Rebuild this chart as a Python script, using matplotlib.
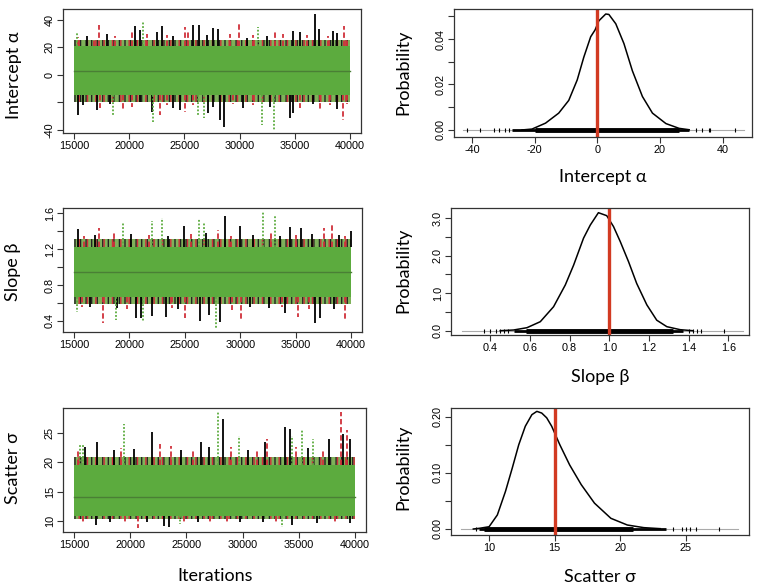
import matplotlib
matplotlib.use("Agg")
import matplotlib.pyplot as plt

W, H = 759, 588

GREEN = "#5cab3e"
GREEN_DARK = "#4a7f35"
FUZZ = "#7fb25a"
RED = "#d0303a"
TRUE_RED = "#d23a22"

plt.rcParams["hatch.linewidth"] = 1.0

# ---------------- trace panels ----------------
trace_iters = [15000, 40000]

alpha_mean = 3.2
alpha_core = (-14.5, 21.0)
alpha_fuzz = (-19.5, 25.5)
alpha_top_black = [(36830, 44.4), (20525, 35.6), (22940, 35.6), (25750, 36.4), (26350, 36.4),
                   (27620, 34.0), (28070, 33.2), (37220, 33.2), (34870, 32.2), (38790, 30.3),
                   (16147, 28), (17959, 30), (20978, 33), (22487, 31), (23997, 28), (27016, 29),
                   (30638, 27), (32450, 28), (35469, 31), (38488, 32)]
alpha_top_red = [(17300, 36.4), (29960, 37.1), (39450, 35.6), (20220, 31.5), (25050, 34.7),
                 (15390, 27.9), (33200, 32.7), (16811, 27), (18713, 28), (21581, 30), (23393, 29),
                 (25355, 33), (29129, 30), (31242, 29), (33959, 30), (36073, 29), (38035, 28),
                 (39696, 27)]
alpha_top_green = [(21280, 38.8), (31700, 35.2), (15240, 31.5)]
alpha_bot_black = [(28590, -37.6), (28220, -32.7), (15390, -29.1), (27170, -27.9), (34570, -31.5),
                   (34870, -27.9), (17050, -25.5), (22040, -26.7), (24600, -25.5), (15845, -22),
                   (18260, -21), (20978, -20), (23997, -24), (27619, -23), (30336, -24),
                   (32751, -23), (36676, -21), (38790, -25)]
alpha_bot_red = [(39400, -32.7), (22790, -29.1), (25050, -26.7), (19470, -25.5), (37280, -25.5),
                 (17355, -24), (20223, -23), (23393, -22), (25808, -22), (29430, -21),
                 (31242, -22), (35469, -24), (38186, -22), (39696, -21)]
alpha_bot_green = [(32000, -36.4), (33120, -40.0), (26780, -31.5), (22130, -33.9),
                   (18560, -29.1), (26260, -29.1)]

beta_mean = 0.948
beta_core = (0.67, 1.225)
beta_fuzz = (0.59, 1.31)
beta_top_black = [(28590, 1.574), (24930, 1.462), (15360, 1.425), (34500, 1.443), (39970, 1.40),
                  (30010, 1.462), (35500, 1.432), (16900, 1.36), (20100, 1.37), (23500, 1.35),
                  (26900, 1.38), (31200, 1.36), (33600, 1.35), (36500, 1.37), (38900, 1.36)]
beta_top_red = [(38260, 1.477), (37600, 1.432), (17250, 1.432), (28040, 1.414), (15900, 1.35),
                (18600, 1.38), (21800, 1.36), (25600, 1.37), (29200, 1.35), (32800, 1.38),
                (35000, 1.36), (39500, 1.35)]
beta_top_green = [(32020, 1.62), (33100, 1.574), (26280, 1.537), (22980, 1.544), (22080, 1.514),
                  (26700, 1.507), (19410, 1.488)]
beta_bot_black = [(28150, 0.389), (36790, 0.37), (37210, 0.426), (20550, 0.426), (21000, 0.433),
                  (26350, 0.396), (27160, 0.463), (22050, 0.456), (23280, 0.444), (34090, 0.482),
                  (16400, 0.55), (18900, 0.54), (24400, 0.53), (30900, 0.55), (32600, 0.54),
                  (38500, 0.53)]
beta_bot_red = [(17640, 0.37), (25060, 0.426), (30100, 0.407), (39460, 0.396), (35200, 0.444),
                (15700, 0.55), (19800, 0.53), (23800, 0.54), (29300, 0.52), (33800, 0.55),
                (36200, 0.53)]
beta_bot_green = [(27860, 0.314), (18780, 0.407), (21240, 0.396), (15240, 0.50)]

sigma_mean = 14.1
sigma_core = (10.8, 19.6)
sigma_fuzz = (10.3, 20.8)
sigma_top_black = [(28225, 27.4), (21953, 25.2), (33787, 26.0), (34231, 25.7), (38965, 24.7),
                   (17071, 23.5), (26302, 23.4), (37746, 24.0), (32012, 23.5), (39616, 24.0),
                   (16000, 22.5), (18500, 22.0), (20300, 22.3), (24500, 22.0), (27000, 22.6),
                   (30500, 22.0), (35800, 22.4)]
sigma_top_red = [(38728, 28.6), (39320, 25.4), (32160, 24.0), (22633, 23.1), (15300, 22.0),
                 (19200, 22.4), (23600, 22.8), (25600, 22.2), (29000, 22.6), (31300, 22.2),
                 (34800, 22.5), (37200, 22.0)]
sigma_top_green = [(27781, 28.6), (19438, 26.5), (35266, 25.4), (15533, 23.1), (29645, 24.5),
                   (34379, 24.5), (36243, 24.0), (15740, 22.9)]
sigma_bot_black = [(23432, 9.04), (22990, 9.2), (16923, 9.3), (39557, 9.6), (34380, 9.3),
                   (18200, 9.8), (21500, 9.9), (26000, 9.8), (29800, 9.9), (31800, 9.8),
                   (36600, 9.7)]
sigma_bot_red = [(20680, 8.76), (27130, 9.43), (15800, 9.9), (19500, 9.8), (24800, 9.9),
                 (28600, 9.7), (33000, 9.9), (38200, 9.8)]
sigma_bot_green = [(33490, 9.04), (24468, 9.43)]

# ---------------- density panels ----------------
alpha_x = [-24, -20.8, -16.5, -12.3, -9.1, -6.4, -4.3, -2.1, -0.7, 0.5, 2.7, 3.7, 5.9, 8.5,
           11.2, 14.4, 17.6, 21.9, 26.1, 29.3]
alpha_y = [0.0, 0.0004, 0.003, 0.0074, 0.013, 0.022, 0.032, 0.041, 0.044, 0.048, 0.051, 0.0508,
           0.0467, 0.038, 0.026, 0.0147, 0.0074, 0.0028, 0.0007, 0.0001]
alpha_true = 0.0
alpha_rug_sparse = [-41.5, -37.5, -33.0, -31.5, -29.5, -28.0, 31.5, 33.5, 35.5, 36.0, 44.0]

beta_x = [0.45, 0.517, 0.585, 0.652, 0.719, 0.778, 0.82, 0.87, 0.904, 0.945, 0.987, 1.021, 1.055,
          1.097, 1.138, 1.189, 1.239, 1.29, 1.357, 1.42]
beta_y = [0.0, 0.018, 0.08, 0.24, 0.64, 1.22, 1.75, 2.47, 2.82, 3.15, 3.07, 2.78, 2.38, 1.84,
          1.26, 0.69, 0.28, 0.107, 0.027, 0.0]
beta_true = 1.0
beta_rug_sparse = [0.37, 0.40, 0.43, 0.45, 0.47, 0.49, 1.40, 1.42, 1.44, 1.46, 1.58]

sigma_x = [8.8, 9.25, 10.0, 10.63, 11.25, 11.76, 12.26, 12.76, 13.26, 13.64, 14.01, 14.39, 14.77,
           15.39, 16.14, 17.02, 18.03, 19.28, 20.53, 21.79, 23.04]
sigma_y = [0.0, 0.0012, 0.004, 0.025, 0.067, 0.108, 0.15, 0.183, 0.2036, 0.2095, 0.2065, 0.198,
           0.183, 0.15, 0.114, 0.079, 0.046, 0.019, 0.0071, 0.0024, 0.0006]
sigma_true = 15.0
sigma_rug_sparse = [9.0, 24.0, 24.7, 25.0, 25.3, 25.8, 27.5]


def axes_box(x0, y0, x1, y1):
    return [x0 / W, 1 - y1 / H, (x1 - x0) / W, (y1 - y0) / H]


def style_axes(ax):
    for s in ax.spines.values():
        s.set_linewidth(0.9)
        s.set_color("#333333")
    ax.tick_params(direction="out", length=4, width=0.8, color="#333333",
                   labelsize=7.8, pad=2)
    for lab in ax.get_yticklabels():
        lab.set_rotation(90)
        lab.set_va("center")


def set_ticks(ax, xticks, xlabels, yticks, ylabels):
    ax.set_xticks(xticks)
    ax.set_xticklabels(xlabels, fontfamily="Liberation Sans")
    ax.set_yticks(yticks)
    ax.set_yticklabels(ylabels, fontfamily="Liberation Sans")


def draw_spikes(ax, spikes, base, color, ls):
    if not spikes:
        return
    it = [s[0] for s in spikes]
    val = [s[1] for s in spikes]
    ax.vlines(it, base, val, colors=color, linestyles=ls, linewidth=1.3)


def plot_trace(ax, mean, core, fuzz, top, bot):
    x = trace_iters
    # ragged edge zones: green under dense black / red strokes
    for lo, hi in [(fuzz[0], core[0]), (core[1], fuzz[1])]:
        ax.fill_between(x, [lo] * 2, [hi] * 2, facecolor=FUZZ, linewidth=0)
        ax.fill_between(x, [lo] * 2, [hi] * 2, facecolor="none", edgecolor="#222222",
                        hatch="|||", linewidth=0)
        ax.fill_between(x, [lo] * 2, [hi] * 2, facecolor="none", edgecolor=RED,
                        hatch="||", linewidth=0)
    ax.fill_between(x, [core[0]] * 2, [core[1]] * 2, color=GREEN, linewidth=0)
    styles = ["solid", (0, (3, 1.5)), (0, (1, 1))]
    for spikes, color, ls in zip(top, ["black", RED, GREEN], styles):
        draw_spikes(ax, spikes, core[1], color, ls)
    for spikes, color, ls in zip(bot, ["black", RED, GREEN], styles):
        draw_spikes(ax, spikes, core[0], color, ls)
    ax.plot(x, [mean, mean], color=GREEN_DARK, linewidth=1.0)
    ax.set_xlim(14000, 41000)


def plot_density(ax, xs, ys, true_val, rug_dense, rug_thick, rug_sparse, grey_span):
    ax.plot(grey_span, [0, 0], color="#aaaaaa", linewidth=0.8)
    ax.plot(rug_dense, [0, 0], color="black", linewidth=2.0, solid_capstyle="butt")
    ax.plot(rug_thick, [0, 0], color="black", linewidth=3.5, solid_capstyle="butt")
    ylo, yhi = ax.get_ylim()
    h = (yhi - ylo) * 0.015
    ax.vlines(rug_sparse, -h, h, colors="black", linewidth=0.8)
    ax.plot(xs, ys, color="black", linewidth=1.1)
    ax.axvline(true_val, color=TRUE_RED, linewidth=2.4)


fig = plt.figure(figsize=(W / 100, H / 100), dpi=100)

# left column: traces
ax1 = fig.add_axes(axes_box(63, 9, 361, 133))
plot_trace(ax1, alpha_mean, alpha_core, alpha_fuzz,
           [alpha_top_black, alpha_top_red, alpha_top_green],
           [alpha_bot_black, alpha_bot_red, alpha_bot_green])
ax1.set_ylim(-42.2, 48)
set_ticks(ax1, [15000, 20000, 25000, 30000, 35000, 40000],
          ["15000", "20000", "25000", "30000", "35000", "40000"],
          [-40, -20, 0, 20, 40], ["-40", "", "0", "20", "40"])
style_axes(ax1)

ax3 = fig.add_axes(axes_box(63, 208, 362, 332))
plot_trace(ax3, beta_mean, beta_core, beta_fuzz,
           [beta_top_black, beta_top_red, beta_top_green],
           [beta_bot_black, beta_bot_red, beta_bot_green])
ax3.set_ylim(0.274, 1.66)
set_ticks(ax3, [15000, 20000, 25000, 30000, 35000, 40000],
          ["15000", "20000", "25000", "30000", "35000", "40000"],
          [0.4, 0.6, 0.8, 1.0, 1.2, 1.4, 1.6], ["0.4", "", "0.8", "", "1.2", "", "1.6"])
style_axes(ax3)

ax5 = fig.add_axes(axes_box(63, 408, 366, 532))
plot_trace(ax5, sigma_mean, sigma_core, sigma_fuzz,
           [sigma_top_black, sigma_top_red, sigma_top_green],
           [sigma_bot_black, sigma_bot_red, sigma_bot_green])
ax5.set_ylim(8.14, 29.2)
set_ticks(ax5, [15000, 20000, 25000, 30000, 35000, 40000],
          ["15000", "20000", "25000", "30000", "35000", "40000"],
          [10, 15, 20, 25], ["10", "15", "20", "25"])
style_axes(ax5)

# right column: posteriors
ax2 = fig.add_axes(axes_box(454, 9, 752, 137))
ax2.set_xlim(-45.7, 49.35)
ax2.set_ylim(-0.0031, 0.0532)
plot_density(ax2, alpha_x, alpha_y, alpha_true, [-27.2, 29.3], [-20, 26], alpha_rug_sparse, [-42.7, 46.9])
set_ticks(ax2, [-40, -20, 0, 20, 40], ["-40", "-20", "0", "20", "40"],
          [0, 0.01, 0.02, 0.03, 0.04, 0.05], ["0.00", "", "0.02", "", "0.04", ""])
style_axes(ax2)

ax4 = fig.add_axes(axes_box(451, 208, 749, 335))
ax4.set_xlim(0.202, 1.704)
ax4.set_ylim(-0.115, 3.275)
plot_density(ax4, beta_x, beta_y, beta_true, [0.52, 1.37], [0.58, 1.32], beta_rug_sparse, [0.257, 1.676])
set_ticks(ax4, [0.4, 0.6, 0.8, 1.0, 1.2, 1.4, 1.6], ["0.4", "0.6", "0.8", "1.0", "1.2", "1.4", "1.6"],
          [0, 0.5, 1.0, 1.5, 2.0, 2.5, 3.0], ["0.0", "", "1.0", "", "2.0", "", "3.0"])
style_axes(ax4)

ax6 = fig.add_axes(axes_box(451, 408, 749, 535))
ax6.set_xlim(7.1, 29.8)
ax6.set_ylim(-0.0107, 0.2155)
plot_density(ax6, sigma_x, sigma_y, sigma_true, [9.25, 23.5], [9.6, 21.0], sigma_rug_sparse, [7.86, 29.0])
set_ticks(ax6, [10, 15, 20, 25], ["10", "15", "20", "25"],
          [0, 0.05, 0.10, 0.15, 0.20], ["0.00", "", "0.10", "", "0.20"])
style_axes(ax6)

# axis titles
label_font = dict(fontfamily=["Lato", "DejaVu Serif"], fontsize=13, ha="center", va="center")
fig.text(14 / W, 1 - 75 / H, "Intercept α", rotation=90, **label_font)
fig.text(13 / W, 1 - 272 / H, "Slope β", rotation=90, **label_font)
fig.text(13 / W, 1 - 468 / H, "Scatter σ", rotation=90, **label_font)
fig.text(215 / W, 1 - 576 / H, "Iterations", **label_font)
for yc in [72, 270, 467]:
    fig.text(403 / W, 1 - yc / H, "Probability", rotation=90, **label_font)
fig.text(603 / W, 1 - 177 / H, "Intercept α", **label_font)
fig.text(600 / W, 1 - 377 / H, "Slope β", **label_font)
fig.text(600 / W, 1 - 577 / H, "Scatter σ", **label_font)

fig.savefig("out.png", dpi=100)
